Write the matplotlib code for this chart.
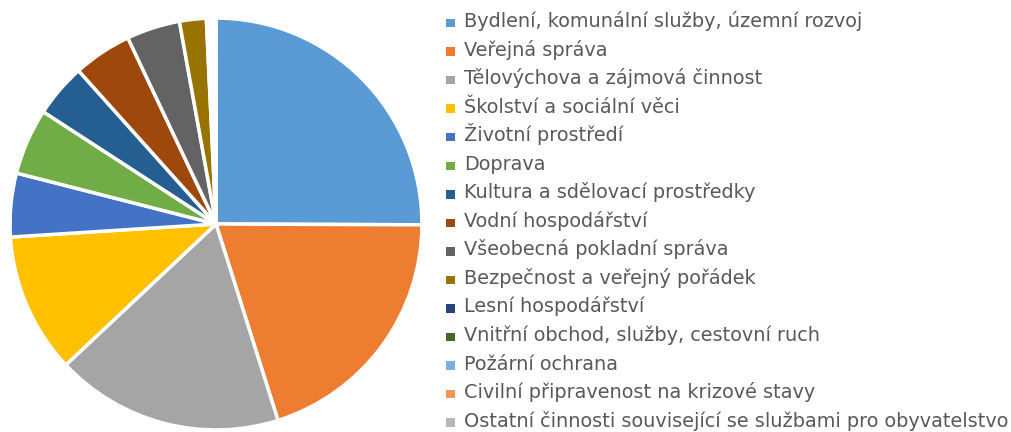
import matplotlib
matplotlib.use("Agg")
import matplotlib.pyplot as plt
from matplotlib.patches import Rectangle

categories = [
    "Bydlení, komunální služby, územní rozvoj",
    "Veřejná správa",
    "Tělovýchova a zájmová činnost",
    "Školství a sociální věci",
    "Životní prostředí",
    "Doprava",
    "Kultura a sdělovací prostředky",
    "Vodní hospodářství",
    "Všeobecná pokladní správa",
    "Bezpečnost a veřejný pořádek",
    "Lesní hospodářství",
    "Vnitřní obchod, služby, cestovní ruch",
    "Požární ochrana",
    "Civilní připravenost na krizové stavy",
    "Ostatní činnosti související se službami pro obyvatelstvo",
]
values = [25.1, 20.1, 17.9, 11.0, 5.0, 5.2, 4.2, 4.6, 4.2, 2.1,
          0.25, 0.2, 0.15, 0.1, 0.05]
colors = ["#5B9BD5", "#ED7D31", "#A5A5A5", "#FFC000", "#4472C4", "#70AD47",
          "#255E91", "#9E480E", "#636363", "#997300", "#264478", "#43682B",
          "#7CAFDD", "#F1975A", "#B7B7B7"]

W, H = 1011, 432
fig = plt.figure(figsize=(W / 100, H / 100), dpi=100)
cx, cy, r = 216, 224, 208
ax = fig.add_axes([(cx - r) / W, (H - cy - r) / H, 2 * r / W, 2 * r / H])
ax.pie(values, colors=colors, startangle=90, counterclock=False,
       wedgeprops=dict(edgecolor="white", linewidth=2.5), radius=1)
ax.set_xlim(-1.01, 1.01)
ax.set_ylim(-1.01, 1.01)
ax.axis("off")

# legend drawn manually for exact row spacing
y0, dy = 23.0, 28.55
sq = 8.5
for i, (lab, c) in enumerate(zip(categories, colors)):
    yc = y0 + i * dy
    fig.add_artist(Rectangle((446 / W, (H - yc - sq / 2) / H), sq / W, sq / H,
                             transform=fig.transFigure, facecolor=c,
                             edgecolor="none"))
    fig.text(464 / W, (H - yc - 4.0) / H, lab, fontsize=13.9, color="#595959",
             ha="left", va="baseline")

fig.savefig("out.png", dpi=100, facecolor="white")
